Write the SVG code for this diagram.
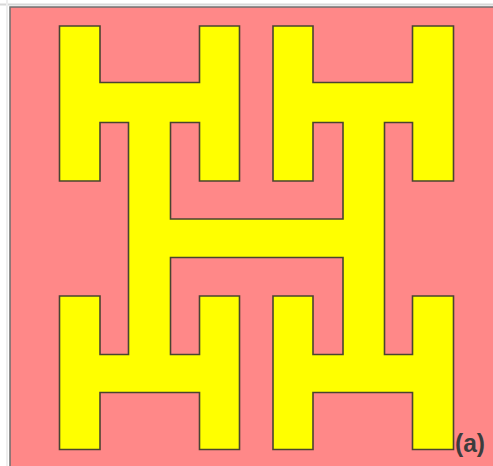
<svg xmlns="http://www.w3.org/2000/svg" width="493" height="466" viewBox="0 0 493 466">
<style>
.bg{fill:#ff8888;stroke:#6e6e6e;stroke-width:1.5}
.htree{fill:#ffff00;stroke:#4a4430;stroke-width:1.6;stroke-linejoin:miter}
.lbl{font-family:"Liberation Sans",Arial,sans-serif;font-weight:bold;font-size:25px;fill:#3c3c3c}
</style>
<rect x="0" y="0" width="493" height="466" fill="#ffffff"/>
<line x1="0" y1="4.5" x2="493" y2="4.5" stroke="#d8d8d8" stroke-width="2"/>
<line x1="7" y1="0" x2="7" y2="466" stroke="#eeeeee" stroke-width="2"/>
<g id="background">
<rect class="bg" x="10" y="7" width="490" height="470"/>
</g>
<g id="h-tree">
<path class="htree" d="M 59.5 26 H 100 V 82.5 H 199.5 V 26 H 239.5 V 181 H 199.5 V 122.5 H 170.5 V 219 H 343 V 122.5 H 313 V 181 H 273 V 26 H 313 V 82.5 H 412.5 V 26 H 453.5 V 181 H 412.5 V 122.5 H 384.5 V 354.5 H 412.5 V 296 H 453.5 V 449.5 H 412.5 V 392.5 H 313 V 449.5 H 273 V 296 H 313 V 354.5 H 343 V 257.5 H 170.5 V 354.5 H 199.5 V 296 H 239.5 V 449.5 H 199.5 V 392.5 H 100 V 449.5 H 59.5 V 296 H 100 V 354.5 H 128.5 V 122.5 H 100 V 181 H 59.5 Z"/>
</g>
<g id="label">
<text class="lbl" x="455" y="452" textLength="30" lengthAdjust="spacingAndGlyphs">(a)</text>
</g>
</svg>
